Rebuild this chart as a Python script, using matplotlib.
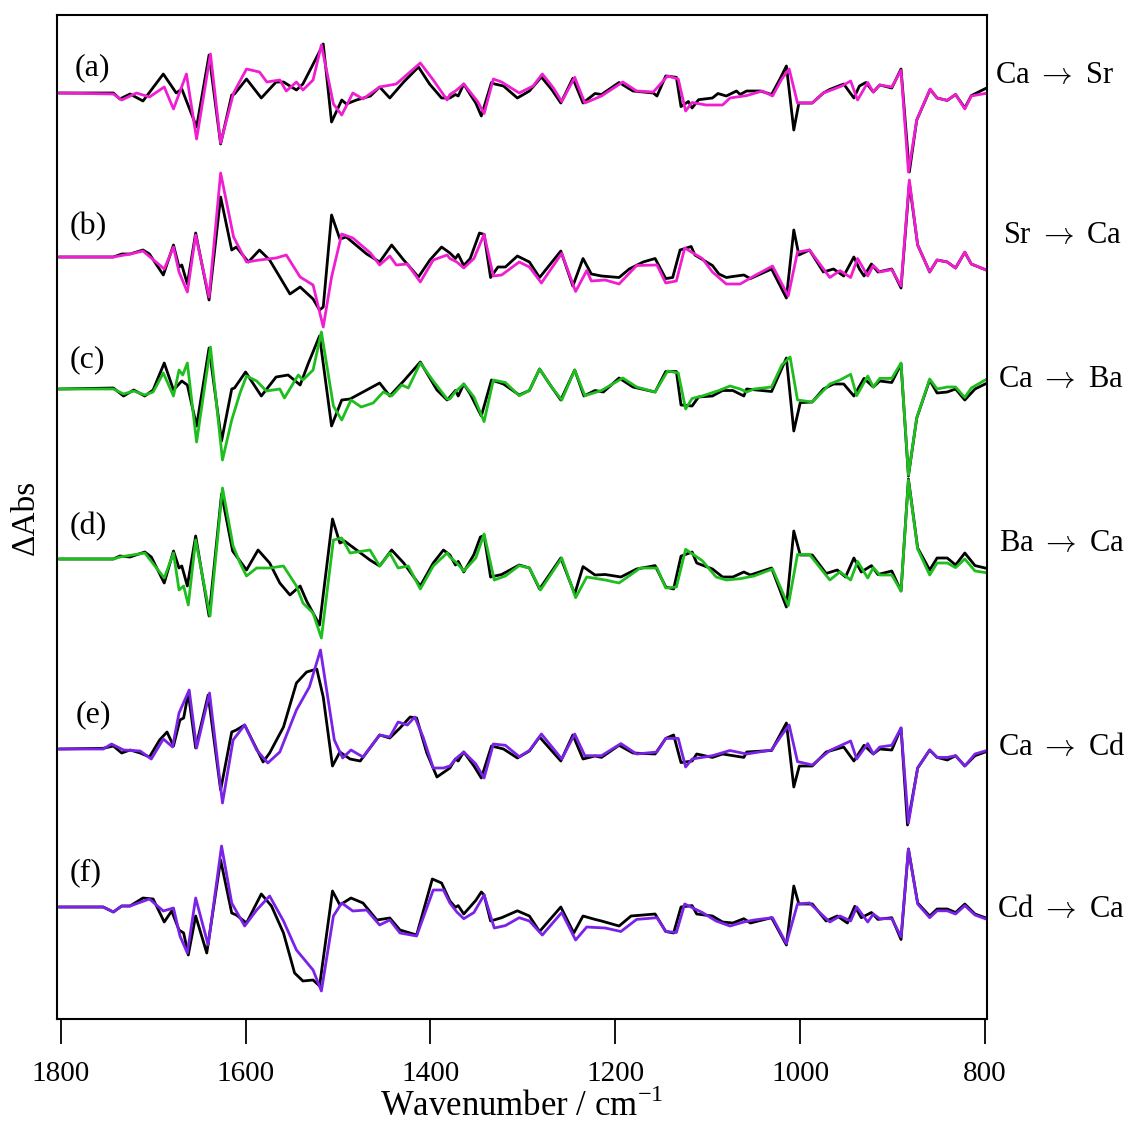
import matplotlib
matplotlib.use('Agg')
import matplotlib.pyplot as plt
import numpy as np

plt.rcParams['font.family'] = ['Liberation Serif', 'DejaVu Serif']
plt.rcParams['mathtext.fontset'] = 'custom'
plt.rcParams['mathtext.rm'] = 'Liberation Serif'

# ---- data: (wavenumber, ΔAbs) keypoints, arbitrary units ----
a_black = [(1801, 0), (1743, 0), (1736, -6), (1725, -1), (1711, -8), (1689, 19), (1675, 0), (1669, 4),
           (1653, -34), (1639.5, 38), (1627, -51), (1615, -2), (1612, -1), (1599, 14), (1583, -5),
           (1567, 11), (1559, 11), (1545, 3), (1538, 9), (1523, 36), (1516, 49), (1507, -29),
           (1496, -7), (1491, -11), (1480, -7), (1465, -3), (1455, 6), (1444, -5), (1429, 11),
           (1413, 26), (1401, 9), (1388, -5), (1379, -5), (1373, -1.5), (1370, -3), (1364, 9),
           (1357, -1.5), (1351, -10), (1345, -23), (1334, 10.5), (1330.5, 9), (1321, 7), (1306, -5),
           (1293, 2), (1280, 16), (1269, 3.6), (1259, -10), (1246, 14.7), (1235, -10), (1222, -0.5),
           (1215, -1.5), (1196, 10.5), (1181, 2), (1159, 0), (1155, -3), (1145.5, 17), (1134, 15.7),
           (1129, -13.6), (1121, -8.5), (1117, -15), (1110, -6.7), (1095, -5), (1089, -0.5),
           (1080, -3), (1069, 2), (1065, -1.5), (1058, 2), (1043, 2), (1031, -1.5), (1022, 14),
           (1015, 27), (1007, -37), (1001.5, -10), (987, -10), (975, 0), (968, 3.6), (953, 9),
           (942, -5), (936, 7), (929, 10.5), (921, 1), (914, 8), (901, 5), (891, 24), (882, -79),
           (874, -27), (859.5, 3.6), (852, -5), (841, -7.4), (832, -1.5), (822, -15), (815, -2.6),
           (800, 4.3)]
a_color = [(1801, 0), (1743, -1), (1734, -7), (1718, 0), (1704, -4), (1688, 6), (1678, -16), (1664, 19),
           (1653, -46), (1638, 39), (1627, -50), (1613, 0), (1599, 24), (1585, 21), (1577, 11),
           (1563, 13), (1556, 2), (1545, 11), (1538, 3), (1527, 13), (1518, 48), (1505, -11),
           (1496, -22), (1484, 0), (1473, -6), (1455, 6), (1437, 9), (1411, 30), (1397, 13),
           (1382, -7), (1379, -1.5), (1373, 2), (1364, 9), (1349, -8.5), (1342, -20.5), (1332, 14),
           (1323, 11), (1304, 0), (1289, 7), (1279, 19), (1267, 5), (1258, -8.5), (1244, 15.7),
           (1233, -10), (1215, -3), (1192, 11), (1177, 2), (1159, 1), (1143.5, 17), (1132, 14),
           (1124, -18), (1117, -9.5), (1102, -12), (1084, -12), (1076, -5), (1058, -2.6), (1041, 2),
           (1030, -3), (1020, 14), (1012, 24), (1003, -10), (987, -10), (975, 0), (955, 7),
           (945.5, 12), (938, -7), (927, 10.5), (921, 1), (914, 8), (901, 6), (891, 22.6), (883, -79),
           (874, -27), (859.5, 4), (852, -5), (841, -7.4), (832, -1.5), (822, -16), (815, -3),
           (800, -0.5)]

b_black = [(1801, 0), (1743, 0), (1734, 3), (1725, 3), (1711, 7), (1704, 3), (1689, -18), (1678, 12),
           (1672, -10), (1669, -8), (1663, -27), (1654, 24), (1639.5, -43), (1627, 60), (1615, 7),
           (1610, 10), (1597, -5), (1585, 7), (1574, -3), (1563, -20), (1552, -37), (1541, -30),
           (1527, -42), (1520, -53), (1516, -50), (1507, 42), (1498, 18), (1491, 20), (1469, 3),
           (1455, -5), (1442, 12), (1429, -3), (1413, -20), (1400.6, -3), (1388, 10), (1379, 4),
           (1373, -1.5), (1370, 2.6), (1364, -8.5), (1357, -1.5), (1347, 24), (1342, 22.6),
           (1335, -20.5), (1327, -10), (1319, -10), (1306, 1), (1293, -5), (1282, -20.5), (1259, 6),
           (1246, -29), (1235, -1.5), (1226, -17), (1215, -19), (1196, -20.5), (1185, -12),
           (1170, -5), (1157, -1.5), (1145.5, -21.6), (1138, -20.5), (1130, 7), (1118, 10.5),
           (1114, 2), (1095, -8.5), (1088, -17), (1080, -20.5), (1073, -19.5), (1061, -18),
           (1054, -21.6), (1031, -12), (1015, -41), (1007, 27), (1001.5, 2), (990, 7), (975, -15),
           (964, -12), (953, -19), (942, 0), (936, -12), (931, -19), (923, -7), (916, -15),
           (901, -12), (891, -31), (882, 74), (873, 12), (860, -15), (852, -3), (841, -5), (832, -11),
           (822, 4.7), (815, -7), (800, -12.6)]
b_color = [(1801, 0), (1743, 0), (1725, 3), (1711, 6), (1688, -12), (1678, 10), (1672, -15), (1663, -35),
           (1654, 22), (1639.5, -40), (1627, 84), (1613, 20), (1599, -5), (1585, -3), (1567, -1),
           (1556, 2), (1541, -20), (1527, -28), (1516, -70), (1507, -20), (1496, 23), (1484, 19),
           (1465, 4), (1455, -8), (1444, 1), (1437, -8), (1425, -7), (1411, -25), (1397, -3),
           (1382, 2), (1379, -1.5), (1371.5, -5), (1364, -11), (1353, -1.5), (1342, 22.6),
           (1332, -19), (1323, -18), (1304, -5), (1293, -10), (1280, -26), (1258, 3.6),
           (1243, -34.5), (1231, -13.6), (1226, -24), (1211, -23), (1196, -27), (1177, -8.5),
           (1155, -8), (1145.5, -26), (1134, -24), (1125, 9), (1106, -1.5), (1095, -15), (1080, -27),
           (1065, -27), (1050, -19), (1030, -9), (1013, -39), (1003, 5), (990, 7), (968, -20.5),
           (957, -13.6), (945.5, -20.5), (938, -1.5), (927, -19), (921, -8.5), (914, -15),
           (901, -12.6), (891, -29), (882, 77), (873, 12), (860, -15), (852, -3), (841, -5),
           (832, -11), (822, 5), (815, -7), (800, -12.6)]

c_black = [(1801, 0), (1743, 1), (1732, -7), (1721, -1), (1709, -7), (1700, -1), (1688, 26), (1678, -1),
           (1669, 8), (1663, 4), (1653, -37), (1639.5, 41), (1626, -52), (1615, 0), (1612, 1),
           (1600, 17), (1583, -7), (1567, 12), (1554, 14), (1541, 4), (1532, 26), (1520, 53),
           (1507, -37), (1496, -11), (1487, -10), (1455, 6), (1444, -7), (1429, 8), (1411, 27),
           (1393, -1), (1382, -11), (1379, -8), (1373, -1.5), (1370, -7), (1364, 5), (1357, -5),
           (1345, -27), (1334, 9), (1321, 5), (1304, -6), (1293, -1.5), (1282, 20), (1269, 2),
           (1259, -11), (1244, 19), (1234, -7), (1222, -1.5), (1213, -3), (1196, 11), (1181, 2),
           (1157, -3), (1145.5, 17.5), (1134, 17.5), (1129, -16), (1117, -17), (1110, -8),
           (1095, -7), (1084, -1.5), (1073, -1.5), (1061, -7), (1058, 0), (1031, -2.5), (1015, 31),
           (1007, -42), (1000, -13.6), (987, -13), (975, 0), (964, 5), (953, 5), (942, -7),
           (931, 10.6), (921, 2), (914, 8), (901, 6.5), (891, 25), (883, -87), (874, -29), (860, 9),
           (852, -4), (841, -3), (832, 0), (822, -11), (811, 0), (800, 5)]
c_color = [(1801, 0), (1743, 0), (1732, -5), (1721, -2), (1709, -6), (1700, -3), (1689, 16), (1678, -7),
           (1672, 19), (1668, 14), (1663, 26), (1653, -53), (1638, 42), (1625, -71), (1615, -31),
           (1606, -4), (1599, 13), (1588, 8), (1577.5, -2), (1563, 0), (1558, -9), (1543, 14),
           (1538, 9), (1527, 19), (1518, 57), (1505, -17), (1496, -31), (1486, -11), (1475, -18),
           (1462, -14), (1451, -3), (1442, -7), (1431, 4), (1424, 1), (1411, 26), (1397, 8),
           (1382, -10), (1379, -10), (1373, -2.6), (1364, 5), (1353, -8), (1342, -32.6), (1332, 9),
           (1319, 6.5), (1304, -6.7), (1293, -1.5), (1282, 20), (1269, 2), (1258, -11), (1244, 19),
           (1233, -6.7), (1215, -1.5), (1192, 11), (1177, 2), (1157, -3), (1143.5, 18), (1132, 16),
           (1124, -20), (1117, -9.5), (1106, -7), (1088, -1.5), (1076, 3), (1065, 0), (1058, -3),
           (1050, 0), (1031, 2), (1020, 24), (1011, 32), (1003, -11), (987, -13), (968, 5), (957, 9),
           (945.5, 14.7), (939, -6.7), (927, 13), (921, 2), (914, 10.6), (901, 10.6), (891, 26),
           (883, -86), (874, -29), (860, 10), (852, 0), (841, 2), (832, 2), (822, -8.5), (815, 1),
           (800, 9)]

d_black = [(1801, 0), (1743, 0), (1736, 3), (1725, 2), (1709, 7), (1702, 2), (1688, -24), (1678, 8),
           (1672, -9), (1669, -7), (1663, -27), (1654, 23), (1639.5, -57), (1626, 65), (1614, 8),
           (1599, -11), (1586.5, 9), (1574, -4), (1563, -24), (1552, -36), (1541, -27), (1534, -42),
           (1520, -66), (1506, 40), (1498, 16), (1493, 18), (1465.5, -1), (1455, -7), (1442, 9),
           (1429, -4), (1411, -27), (1397, -4), (1386, 9), (1379, 4), (1373, -6), (1370, -2.4),
           (1364, -13), (1353, 4.5), (1346, 22), (1342, 23.5), (1335, -18), (1323, -15.5),
           (1304, -6), (1293, -9), (1282, -30), (1259, 1), (1244, -35), (1235, -7.6), (1222, -16),
           (1211, -15.5), (1194, -18), (1177, -10), (1157, -6.6), (1145.5, -28), (1137, -30),
           (1129, 2.8), (1117, 7), (1112, -4), (1095, -10), (1084, -18), (1073, -18), (1061, -13),
           (1054, -16), (1031, -9), (1015, -48), (1007, 28), (1000, 4), (987, 4), (972, -14.5),
           (960, -11), (951, -18), (942, 1), (934, -13), (923, -6.6), (916, -15.5), (901, -12),
           (891, -32), (883, 80), (873, 11), (860, -11), (852, 1), (841, 1), (832, -6), (822, 6),
           (811, -6.6), (800, -9)]
d_color = [(1801, 0), (1743, 0), (1736, 2), (1709, 6), (1688, -19), (1678, 6), (1672, -31), (1667, -27),
           (1662, -46), (1654, 19), (1638.5, -57), (1625, 71), (1613.5, 13), (1606, -4), (1599, -17),
           (1588, -9), (1574, -9), (1559, -7), (1545, -27), (1538, -44), (1527, -54), (1518, -79),
           (1505, 19), (1496, 21), (1487, 6), (1465.5, 9), (1455, -7), (1444, 6), (1435, -9),
           (1424, -7), (1411, -30), (1397, -7), (1382, 6), (1379, 2), (1371.5, -4), (1364, -12),
           (1351, 1), (1342, 25), (1331, -21), (1319, -17), (1304, -6.6), (1293, -9), (1281, -31),
           (1258, 1), (1243, -38.7), (1231, -18), (1211, -21), (1196, -24), (1173, -9), (1155, -9),
           (1145.5, -29), (1134, -28), (1124, 9.7), (1106, -1.7), (1091, -18), (1080, -21),
           (1065, -19.7), (1050, -17), (1030, -10), (1013, -46.6), (1003, 4.5), (990, 4.5),
           (968, -21), (957, -12.8), (945.5, -21), (938, -2.4), (927, -19), (921, -8.6), (914, -16),
           (901, -16), (891, -32), (883, 79), (873, 10), (860, -16), (852, -4), (841, -4),
           (832, -8.6), (822, 0), (811, -12), (800, -13.5)]

e_black = [(1801, 0), (1754, 0.7), (1743, 3), (1734, -4), (1725, -1), (1714, -4), (1704, -8), (1693, 9),
           (1685, 17), (1678, 3), (1671, 29), (1667, 31), (1662, 56), (1654, 1), (1640.5, 54),
           (1627, -41), (1615, 17), (1610, 19), (1601, 24), (1581, -13), (1574, -4), (1559, 22),
           (1545, 66), (1534, 77), (1523, 80), (1516, 52), (1506, -17), (1498, -3), (1487, -10),
           (1476, -12), (1455, 14), (1444, 11), (1433, 21), (1422, 32), (1415, 31), (1404, -4),
           (1393, -28), (1379, -19), (1373, -10), (1370, -12), (1364, -3), (1353, -17), (1345, -29),
           (1334, 3), (1321, 0), (1306, -9), (1293, -2), (1282, 12), (1259, -12), (1246, 14),
           (1235, -10), (1222, -7), (1215, -8.4), (1196, 3.7), (1181, -4), (1157, -5), (1145.5, 10.6),
           (1137, 14), (1129, -13.6), (1117, -12), (1112, -5), (1095, -8.4), (1084, -5), (1061, -8.4),
           (1058, -3), (1031, -1.5), (1015, 26), (1007, -38), (1001, -17), (987, -17), (972, -3),
           (953, 2), (942, -12), (931, 3.7), (921, -5), (914, 0), (901, -1), (891, 21), (884, -76),
           (873, -19), (860, -1), (852, -8.4), (841, -11), (832, -6.7), (822, -17), (811, -6.7),
           (800, -3)]
e_color = [(1801, 0), (1754, 0), (1745, 5), (1732, -1), (1714, -2), (1702, -10), (1689, 10), (1679, 2),
           (1672, 36), (1661, 59), (1653, 1), (1639, 56), (1625, -54), (1613.5, 9), (1601, 24),
           (1588, -1), (1576, -14), (1563, -3), (1545, 39), (1531, 62), (1519, 99), (1504, 9),
           (1495, -9), (1486, -1), (1473, -8), (1455, 14), (1444, 12), (1435, 27), (1425, 24),
           (1417, 32), (1408, 12), (1397, -19), (1386, -19), (1379, -17), (1373, -10), (1364, -3),
           (1351, -15), (1342, -29), (1332, 5), (1319, 3.7), (1304, -7.7), (1293, -1.5), (1280, 15),
           (1258, -10), (1244, 15), (1233, -6.7), (1215, -6.7), (1194, 5.4), (1177, -5), (1155, -3),
           (1145.5, 10.6), (1132, 10.6), (1124, -18), (1117, -10), (1095, -6.7), (1076, -1.5),
           (1058, -5), (1031, -1), (1020, 14), (1012, 24), (1003, -12.6), (987, -16), (968, -1.5),
           (945.5, 8), (939, -10), (927, 5.4), (921, -5), (914, 2), (901, 3.7), (891, 21), (883, -74),
           (873, -19), (860, -1), (852, -8.4), (841, -8.4), (832, -6.7), (822, -17), (811, -5),
           (800, -2)]

f_black = [(1801, 0), (1754, 0), (1743, -5), (1734, 1), (1725, 1), (1711, 9), (1700, 8), (1688, -15),
           (1680, -4), (1672, -23), (1667, -26), (1662, -48), (1654, -9), (1642, -46), (1627, 47),
           (1615, -6), (1610, -8), (1599, -16), (1583, 13), (1572, 1), (1559, -26), (1547, -66),
           (1538, -74), (1527, -73), (1520, -79), (1506, 16), (1498, 2), (1486, 9), (1473, 4),
           (1458, -13), (1444, -11), (1433, -23), (1415, -28), (1398, 28), (1388, 24), (1379, 6),
           (1373, -0.3), (1370, 1.4), (1364, -7), (1351, 6.6), (1345, 15), (1342, 12), (1335, -14),
           (1323, -10.7), (1306, -3.8), (1293, -9), (1282, -24.5), (1259, 0), (1245, -26), (1235, -9),
           (1222, -12.4), (1215, -14), (1196, -19), (1183, -9), (1157, -7), (1145.5, -24.5),
           (1137, -26), (1129, 0), (1117, 1.4), (1112, -7), (1095, -9), (1084, -15), (1073, -16),
           (1061, -11.7), (1054, -16), (1031, -10.7), (1015, -38), (1007, 21), (1001.5, 3), (987, 3),
           (972, -14), (960, -9), (949, -16), (941, 0.7), (934, -10.7), (923, -5.5), (916, -12.4),
           (901, -10.7), (891, -32.5), (883, 58), (873, 4), (860, -9), (852, -2), (841, -2),
           (832, -5.5), (822, 3), (811, -7), (800, -10.7)]
f_color = [(1801, 0), (1754, 0), (1743, -5), (1734, 1), (1725, 1), (1704, 8), (1689, -4), (1678, -1),
           (1671, -29), (1663, -46), (1654, 9), (1640.5, -38), (1626, 61), (1615, 4), (1601, -19),
           (1588, -3), (1574, 11), (1559, -14), (1545, -43), (1527, -63), (1518, -84), (1505, -9),
           (1496, 4), (1484, -4), (1469, -3), (1455, -18), (1444, -13), (1433, -26), (1415, -29),
           (1397, 17), (1386, 17), (1379, 4), (1371.5, -5), (1364, -11.7), (1353, -5.5), (1342, 12),
           (1331, -21), (1319, -18.6), (1304, -10.7), (1293, -14), (1279, -28), (1258, -5.5),
           (1243, -33), (1231, -20), (1211, -21), (1194, -24.5), (1177, -12.4), (1155, -10.7),
           (1145.5, -24.5), (1134, -25.5), (1125, 3), (1106, -5.5), (1091, -14), (1076, -19),
           (1061, -15), (1050, -13), (1030, -10.7), (1015, -36.6), (1003, 3), (990, 4), (968, -15),
           (957, -9), (945.5, -14), (939, 0), (927, -15), (921, -7), (914, -11.7), (901, -11.7),
           (891, -29.7), (883, 58), (873, 3), (860, -10.7), (852, -3.8), (841, -3.8), (832, -7),
           (822, 1.4), (811, -8), (800, -11.7)]

black_traces = [a_black, b_black, c_black, d_black, e_black, f_black]
color_traces = [a_color, b_color, c_color, d_color, e_color, f_color]
offsets = [-78, -242, -374, -544, -734, -892]
panel_labels = ['(a)', '(b)', '(c)', '(d)', '(e)', '(f)']
exchange_labels = ['Ca $\\rightarrow$ Sr', 'Sr $\\rightarrow$ Ca', 'Ca $\\rightarrow$ Ba',
                   'Ba $\\rightarrow$ Ca', 'Ca $\\rightarrow$ Cd', 'Cd $\\rightarrow$ Ca']
trace_colors = ['#f01ed0', '#f01ed0', '#1fbe1f', '#1fbe1f', '#7a22e8', '#7a22e8']

# label positions in figure pixels (x, y from top)
panel_pos = [(75, 68), (70, 227), (70, 360), (70, 527), (76, 715), (70, 873)]
exch_pos = [(995, 75), (1003, 235), (998, 380), (999, 543), (998, 748), (997, 910)]

W, H = 1140, 1136
fig = plt.figure(figsize=(W / 100, H / 100), dpi=100)
ax = fig.add_axes([57 / W, 1 - 1019 / H, 930 / W, 1004 / H])

for blk, col, off, c in zip(black_traces, color_traces, offsets, trace_colors):
    blk = np.array(blk)
    col = np.array(col)
    ax.plot(blk[:, 0], blk[:, 1] + off, color='black', lw=2.0, solid_joinstyle='round')
    ax.plot(col[:, 0], col[:, 1] + off, color=c, lw=2.0, solid_joinstyle='round')

ax.set_xlim(1804, 798)
ax.set_ylim(-1004, 0)
ax.set_xticks([1800, 1600, 1400, 1200, 1000, 800])
ax.set_yticks([])
ax.tick_params(axis='x', direction='out', length=18, width=1.3, pad=12, labelsize=21)
for s in ax.spines.values():
    s.set_linewidth(1.5)

ax.set_xlabel('Wavenumber / cm$^{\\mathrm{-1}}$', fontsize=25, labelpad=2)
ax.set_ylabel('\u0394Abs', fontsize=24, labelpad=12)

for lab, (x, y) in zip(panel_labels, panel_pos):
    fig.text(x / W, 1 - y / H, lab, fontsize=23, ha='left', va='center')
for lab, (x, y) in zip(exchange_labels, exch_pos):
    fig.text(x / W, 1 - y / H, lab, fontsize=22, ha='left', va='center',
             math_fontfamily='cm')

fig.savefig('out.png', dpi=100)
